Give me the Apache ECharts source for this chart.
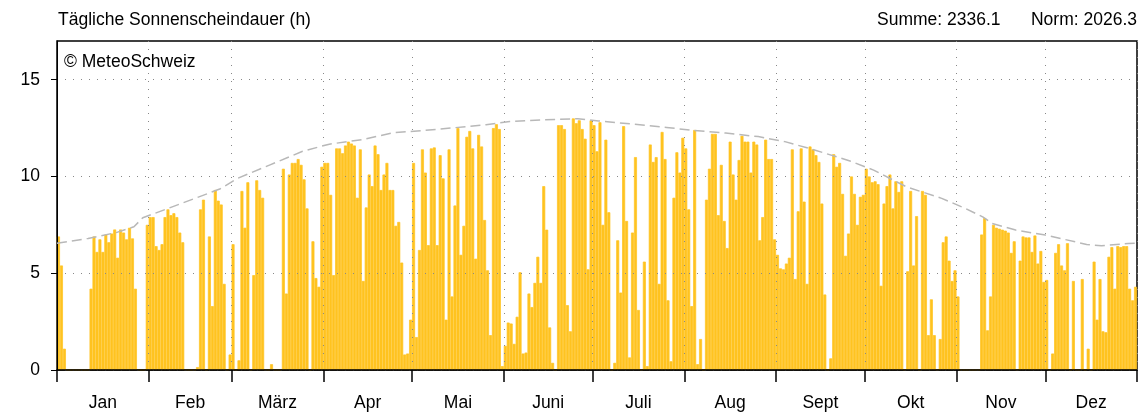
<!DOCTYPE html>
<html><head><meta charset="utf-8">
<script src="https://cdn.jsdelivr.net/npm/echarts@6/dist/echarts.min.js"></script>
<style>html,body{margin:0;padding:0;background:#fff}#c{width:1145px;height:416px}</style>
</head><body><div id="c"></div>
<script>
const months = ['Jan','Feb','März','Apr','Mai','Juni','Juli','Aug','Sept','Okt','Nov','Dez'];
const monthDays = [31,28,31,30,31,30,31,31,30,31,30,31];

const sunJan = [6.9,5.4,1.1,0,0,0,0,0,0,0,0,4.2,6.9,6.1,6.75,6.1,7.0,6.6,7.05,7.26,5.8,7.26,7.1,6.75,7.35,6.8,4.2,0,0,0,7.5];
const sunFeb = [7.9,7.9,6.4,6.2,6.5,7.9,8.3,8.0,8.1,7.9,7.1,6.6,0,0,0,0,0.15,8.3,8.8,0,6.9,3.3,9.3,8.75,8.55,4.45,0,0.8];
const sunMar = [6.5,0,0.5,9.25,7.35,9.7,0,4.9,9.8,9.3,8.9,0,0,0.3,0,0,0,10.4,3.95,10.1,10.7,10.7,10.9,10.6,9.85,8.35,0,6.65,4.75,4.3,10.5];
const sunApr = [10.7,10.7,9.05,4.9,11.45,11.45,11.2,11.6,11.8,11.7,11.6,8.9,11.4,4.6,8.4,10.1,9.5,11.6,11.15,9.3,10.1,10.7,9.3,9.3,7.45,7.65,5.55,0.8,0.85,2.6];
const sunMay = [10.7,1.7,6.2,11.4,10.2,6.45,11.45,11.5,6.45,11.1,9.9,2.6,11.4,3.8,8.5,12.5,5.95,7.45,12.05,12.35,11.45,5.75,12.15,11.55,7.75,5.15,1.8,12.5,12.7,12.45,0.2];
const sunJun = [1.25,2.45,2.4,1.35,2.75,5.05,0.85,0.9,3.95,3.25,4.5,5.85,4.5,9.5,7.25,2.2,0.37,0,12.65,12.65,12.45,3.35,2.0,13.0,12.75,12.9,12.45,11.95,5.2,12.9];
const sunJul = [12.65,11.3,12.8,7.5,11.9,8.15,0,0.37,6.7,4.0,12.6,7.7,0.65,7.1,11.0,3.1,0,5.6,0.2,11.65,10.75,11.0,4.45,12.3,10.9,3.6,0.45,8.9,11.25,10.2,12.0];
const sunAug = [11.45,8.3,3.3,12.4,0.3,1.6,0,8.8,10.4,12.2,12.2,8.0,10.6,7.7,6.3,11.8,10.1,8.8,10.85,12.1,11.8,11.8,10.2,11.8,11.65,6.7,7.9,11.9,10.9,10.9,6.75];
const sunSep = [5.95,5.25,5.2,5.5,5.8,11.4,4.7,8.2,11.45,8.7,4.45,11.55,11.4,11.1,10.75,8.6,3.9,0,0.6,11.15,10.5,10.7,9.1,5.9,7.05,10.0,9.1,7.5,8.95,9.05];
const sunOct = [10.4,10.0,9.7,9.75,9.6,4.35,8.6,9.5,10.1,8.35,9.75,9.2,9.75,0,5.1,9.25,5.4,7.95,0,9.25,9.05,1.8,3.65,1.8,0,1.6,6.6,6.9,5.65,4.6,5.15];
const sunNov = [3.8,0,0,0,0,0,0,0,7.0,7.85,2.05,3.8,7.5,7.35,7.3,7.25,7.2,7.1,6.05,6.65,0,5.65,6.9,6.85,6.85,6.1,6.95,5.5,6.15,4.55];
const sunDec = [4.65,0,0.85,6.05,6.5,5.4,5.15,6.55,0,4.6,0,0,4.7,0,1.1,0,5.6,2.6,4.7,2.0,1.95,5.85,6.35,4.2,6.4,6.35,6.4,6.4,4.2,3.6,4.3];

// norm curve: day-of-year position and hours
const normDay   = [0,10.5,20,26,29,33,55,61,72,83,92,103,114,123,133,145,153,164,176,183,195,206,214,226,237,246,256,268,276,287,299,307,313,316,324,334,348,353,362,365];
const normValue = [6.55,6.8,7.1,7.4,7.87,8.09,9.35,9.9,10.6,11.3,11.67,11.9,12.27,12.36,12.5,12.67,12.84,12.93,12.98,12.87,12.7,12.53,12.4,12.24,12.06,11.8,11.37,10.8,10.33,9.47,8.87,8.35,7.9,7.57,7.23,6.97,6.49,6.42,6.54,6.55];

const yTicks = [0,5,10,15];
const titleText = 'Tägliche Sonnenscheindauer (h)';
const sumText = 'Summe: 2336.1';
const normText = 'Norm: 2026.3';
const creditText = '© MeteoSchweiz';

const FONT = '"Liberation Sans", Arial, Helvetica, sans-serif';
const FS = 17.5;
const BAR = '#ffc320';
const sunshine = [].concat(sunJan,sunFeb,sunMar,sunApr,sunMay,sunJun,sunJul,sunAug,sunSep,sunOct,sunNov,sunDec);
const dayIndex = sunshine.map((_, i) => i);
const monthStart = [];
let acc = 0;
monthDays.forEach(n => { monthStart.push(acc); acc += n; });
monthStart.push(acc);
const monthCenter = monthDays.map((n, i) => monthStart[i] + n / 2);

const chart = echarts.init(document.getElementById('c'), null, {renderer: 'canvas'});
const txt = {fontSize: FS, fontWeight: 'normal', color: '#000', fontFamily: FONT};
chart.setOption({
  animation: false,
  backgroundColor: '#fff',
  title: [
    {text: titleText, left: 58, top: 11, padding: 0, textStyle: txt},
    {text: sumText, left: 877, top: 11, padding: 0, textStyle: txt},
    {text: normText, right: 8, top: 11, padding: 0, textStyle: txt},
    {text: creditText, left: 64, top: 53, padding: 0, textStyle: txt, z: 10}
  ],
  grid: {left: 57, right: 8, top: 41, bottom: 46, show: true, borderColor: '#000', borderWidth: 1.5, backgroundColor: 'transparent'},
  xAxis: [
    {type: 'category', data: dayIndex, show: false, boundaryGap: true},
    {type: 'value', min: 0, max: 365, position: 'bottom', z: 5,
     axisLine: {show: true, onZero: false, lineStyle: {color: '#000', width: 1.5}},
     axisTick: {show: true, customValues: monthStart, length: 12, lineStyle: {color: '#000', width: 1.5}},
     axisLabel: {customValues: monthCenter, color: '#000', fontSize: FS, fontFamily: FONT, margin: 24,
       formatter: v => { const i = monthCenter.findIndex(c => Math.abs(c - v) < 0.01); return i >= 0 ? months[i] : ''; }},
     splitLine: {show: true, lineStyle: {type: [1, 7], color: '#888', width: 1}}}
  ],
  yAxis: {type: 'value', min: 0, max: 17, z: 5,
    axisLine: {show: true, lineStyle: {color: '#000', width: 1}},
    axisTick: {show: true, customValues: yTicks, length: 6, lineStyle: {color: '#000'}},
    axisLabel: {customValues: yTicks, color: '#000', fontSize: FS, fontFamily: FONT, margin: 17},
    splitLine: {show: true, lineStyle: {type: [1, 7], color: '#888', width: 1}}},
  series: [
    {type: 'bar', xAxisIndex: 0, yAxisIndex: 0, data: sunshine, barCategoryGap: '0%',
     itemStyle: {color: BAR, borderColor: BAR, borderWidth: 0.7}, silent: true},
    {type: 'line', xAxisIndex: 1, yAxisIndex: 0, data: normDay.map((d, i) => [d, normValue[i]]), symbol: 'none', smooth: false,
     lineStyle: {color: '#b8b8b8', type: [10, 5], width: 1.5}, z: 6, silent: true}
  ]
});
</script></body></html>
